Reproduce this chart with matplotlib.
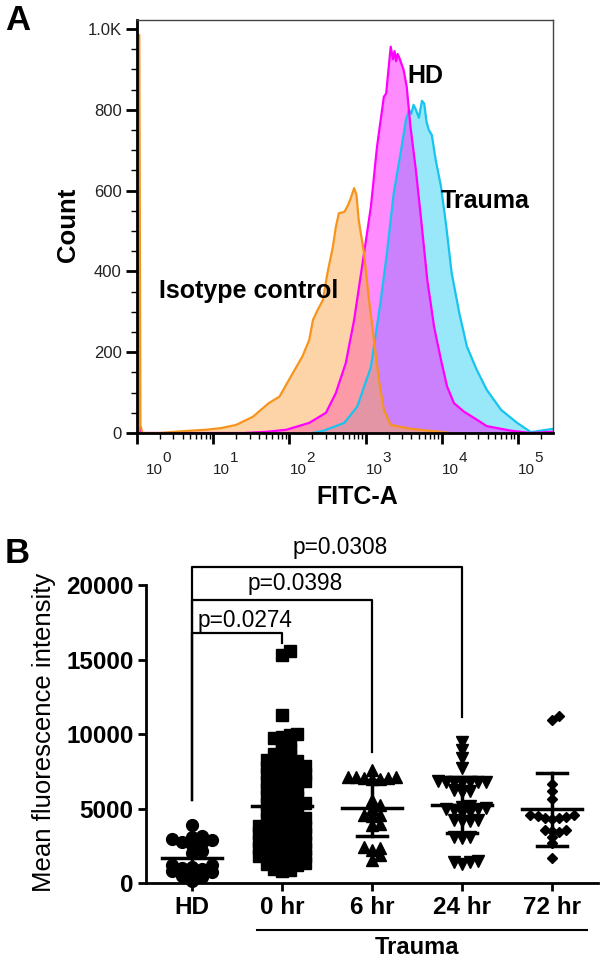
import numpy as np
import matplotlib
matplotlib.use('Agg')
import matplotlib.pyplot as plt
from matplotlib import transforms

plt.rcParams['font.family'] = ['Liberation Sans', 'DejaVu Sans']

# ---- panel A: FITC-A histograms (x as log10 of FITC-A, y as count) ----
iso_log = [0.02, 0.02, 0.03, 0.045, 0.07, 0.3, 0.5, 0.64, 0.9, 1.1, 1.3, 1.52, 1.73, 1.87,
           2.02, 2.17, 2.26, 2.31, 2.37, 2.44, 2.50, 2.57, 2.61, 2.65, 2.72, 2.76,
           2.80, 2.85, 2.88, 2.91, 2.98, 3.04, 3.11, 3.18, 3.24, 3.33, 3.6, 4.03, 4.1]
iso_count = [0, 985, 985, 20, 0, 0, 3, 5, 8, 12, 20, 40, 74, 90,
             140, 189, 230, 280, 304, 329, 396, 460, 510, 544, 547, 560,
             578, 606, 590, 527, 445, 337, 230, 124, 57, 20, 10, 2, 0]

hd_log = [0.02, 0.02, 0.05, 1.4, 1.7, 1.96, 2.26, 2.48, 2.61, 2.74, 2.85, 2.98, 3.07,
          3.15, 3.24, 3.27, 3.30, 3.33, 3.36, 3.38, 3.40, 3.42, 3.44, 3.50, 3.54,
          3.59, 3.66, 3.73, 3.81, 3.90, 3.99, 4.07, 4.16, 4.29, 4.46, 4.59, 4.9,
          5.17, 5.45]
hd_count = [0, 35, 0, 0, 3, 8, 25, 50, 99, 173, 280, 445, 560,
            708, 832, 840, 898, 956, 925, 945, 920, 938, 930, 898, 857,
            757, 651, 527, 379, 262, 181, 115, 74, 53, 33, 17, 6,
            0, 3]

trauma_log = [2.3, 2.44, 2.72, 2.89, 3.07, 3.20, 3.28, 3.37, 3.46, 3.53, 3.57, 3.60,
              3.63, 3.66, 3.70, 3.74, 3.77, 3.80, 3.83, 3.87, 3.92, 3.99, 4.06, 4.13,
              4.23, 4.33, 4.46, 4.59, 4.78, 4.99, 5.17, 5.34, 5.45]
trauma_count = [0, 5, 25, 65, 163, 329, 445, 594, 693, 775, 800, 790,
                812, 800, 780, 822, 815, 770, 750, 737, 676, 610, 510, 396,
                297, 214, 156, 107, 57, 25, 2, 7, 10]

# ---- panel B: mean fluorescence intensity per group ----
groups = ['HD', '0 hr', '6 hr', '24 hr', '72 hr']
hd_mfi = [3900, 3150, 3100, 2950, 2900, 2750, 2700, 2600, 2150, 2050, 1250, 1200,
          1100, 1050, 950, 800, 750, 650, 500, 450, 150]
hr0_mfi = [15600, 15300, 11300,
           10000, 9950, 9800, 9750, 9500, 9450,
           9000, 8950, 8650, 8600, 8550,
           8250, 8200, 8200, 8150, 8150,
           7850, 7800, 7800, 7750, 7750, 7700,
           7350, 7300, 7300, 7250, 7250, 7200,
           6850, 6800, 6800, 6750, 6750, 6700,
           6350, 6300, 6300, 6250, 6200,
           5850, 5800, 5800, 5750, 5700,
           5350, 5300, 5300, 5250, 5250, 5200,
           4850, 4800, 4800, 4750, 4700,
           4350, 4300, 4300, 4250, 4250, 4200,
           3850, 3800, 3800, 3750, 3750, 3700, 3700,
           3350, 3300, 3300, 3250, 3250, 3200, 3200,
           2850, 2800, 2800, 2750, 2750, 2700, 2700,
           2350, 2300, 2300, 2250, 2250, 2200, 2200,
           1850, 1800, 1800, 1750, 1750, 1700, 1700,
           1350, 1300, 1300, 1250, 1250, 1200,
           950, 900, 850]
hr6_mfi = [7580, 7150, 7100, 7100, 7050, 7050, 7000, 7000, 5570, 5230, 5000, 4600,
           4560, 4520, 4000, 3900, 2420, 2350, 2200, 1880, 1540]
hr24_mfi = [9460, 8920, 8390, 7720, 6850, 6820, 6800, 6800, 6780, 6760, 6750, 6250,
            6200, 6150, 5200, 5100, 5050, 5000, 4950, 4900, 4800, 4700, 4250, 4230,
            4200, 4150, 3100, 3080, 3050, 1500, 1450, 1400, 1300]
hr72_mfi = [11200, 10940, 6640, 6180, 5640, 4600, 4550, 4500, 4450, 4400, 4350, 4300,
            3600, 3550, 3500, 3450, 3090, 2680, 1680]
group_means = [1680, 5150, 5030, 5230, 4960]
group_sds = [1000, 3000, 1880, 1880, 2450]
p_values = ['p=0.0274', 'p=0.0398', 'p=0.0308']


def swarm_offsets(vals, h, dx):
    # simple beeswarm: lowest values first, push sideways on collision
    vals = np.asarray(vals, float)
    cand = [0.0]
    for k in range(1, 20):
        cand += [k * dx, -k * dx]
    offs = np.zeros(len(vals))
    px, py = [], []
    for i in np.argsort(vals):
        for c in cand:
            if all(abs(c - a) >= dx * 0.999 or abs(vals[i] - b) >= h for a, b in zip(px, py)):
                break
        offs[i] = c
        px.append(c)
        py.append(vals[i])
    return offs


fig = plt.figure(figsize=(6, 9.6), dpi=100)

# ================= panel A =================
ax1 = fig.add_axes([137 / 600, 1 - 433 / 960, 416 / 600, 413 / 960])
curves = [
    (trauma_log, trauma_count, '#33d3f7', '#17c3ef'),
    (hd_log, hd_count, '#ff1aff', '#ff00ff'),
    (iso_log, iso_count, '#fbab51', '#f7941d'),
]
for lg, cnt, fc, lc in curves:
    xs = 10 ** np.asarray(lg)
    ax1.fill_between(xs, 0, cnt, color=fc, alpha=0.5, lw=0)
    ax1.plot(xs, cnt, color=lc, lw=1.6)

ax1.set_xscale('log')
ax1.set_xlim(1, 10 ** 5.46)
ax1.set_ylim(0, 1022)
ax1.set_yticks([0, 200, 400, 600, 800, 1000])
ax1.set_yticklabels(['0', '200', '400', '600', '800', '1.0K'], fontsize=12, color='#222222')
ax1.set_yticks(np.arange(0, 1001, 50), minor=True)
ax1.set_xticks([10 ** k for k in range(6)])
ax1.set_xticklabels([])
ax1.xaxis.set_minor_locator(matplotlib.ticker.LogLocator(base=10, subs=np.arange(2, 10)))
ax1.xaxis.set_minor_formatter(matplotlib.ticker.NullFormatter())
ax1.tick_params(which='major', length=8, width=2, direction='out')
ax1.tick_params(which='minor', length=4, width=1, direction='out')
ax1.tick_params(axis='y', pad=3)
for s in ['left', 'bottom']:
    ax1.spines[s].set_linewidth(2)
for s in ['top', 'right']:
    ax1.spines[s].set_linewidth(1)
    ax1.spines[s].set_color('#444444')

# decade labels, "10" with a raised exponent
blend = transforms.blended_transform_factory(ax1.transData, ax1.transAxes)
for k in range(6):
    xk = 10 ** (k + (0.12 if k == 0 else 0.0))
    ax1.text(xk, -0.1, '10', transform=blend, fontsize=11, color='#222222',
             ha='left', va='baseline')
    ax1.annotate(str(k), xy=(xk, -0.1), xycoords=blend, xytext=(12, 8.5),
                 textcoords='offset points', fontsize=11, color='#222222',
                 ha='left', va='baseline')

ax1.text(10 ** 3.78, 866, 'HD', fontsize=18, fontweight='bold', ha='center', va='baseline')
ax1.text(10 ** 4.57, 557, 'Trauma', fontsize=18, fontweight='bold', ha='center', va='baseline')
ax1.text(10 ** 1.46, 334, 'Isotype control', fontsize=18, fontweight='bold',
         ha='center', va='baseline')

fig.text(357 / 600, 1 - 497 / 960, 'FITC-A', fontsize=18, fontweight='bold',
         ha='center', va='center')
fig.text(68 / 600, 1 - 225 / 960, 'Count', fontsize=18.5, fontweight='bold',
         rotation=90, ha='center', va='center')
fig.text(5 / 600, 1 - 4 / 960, 'A', fontsize=25, fontweight='bold', ha='left', va='top')

# ================= panel B =================
ymax = 21500
ax2 = fig.add_axes([146 / 600, 1 - 883.3 / 960, 452 / 600, (ymax / 67.04) / 960])
ax2.set_xlim(-0.511, 4.51)
ax2.set_ylim(0, ymax)

datasets = [hd_mfi, hr0_mfi, hr6_mfi, hr24_mfi, hr72_mfi]
markers = ['o', 's', '^', 'v', 'D']
msizes = [8.5, 8, 9, 9, 5.5]
heights = [450, 350, 400, 400, 400]
dxs = [0.11, 0.085, 0.09, 0.09, 0.08]
for i, vals in enumerate(datasets):
    offs = swarm_offsets(vals, heights[i], dxs[i])
    ax2.plot(i + offs, vals, ls='none', marker=markers[i], ms=msizes[i],
             color='black', mec='black', clip_on=False, zorder=3)
    m, sd = group_means[i], group_sds[i]
    ax2.plot([i - 0.33, i + 0.33], [m, m], color='black', lw=2.5, zorder=4)
    ax2.plot([i, i], [m - sd, m + sd], color='black', lw=2.5, zorder=4)
    for y in (m - sd, m + sd):
        ax2.plot([i - 0.17, i + 0.17], [y, y], color='black', lw=2.5, zorder=4)

# significance brackets
bracket_tops = [16770, 19000, 21200]
bracket_ends = [16100, 8790, 11140]
text_x = [0.067, 0.62, 1.12]
text_y = [17180, 19660, 22050]
for j in range(3):
    ax2.plot([0, 0, j + 1, j + 1], [5570, bracket_tops[j], bracket_tops[j], bracket_ends[j]],
             color='black', lw=1.6, clip_on=False)
    ax2.text(text_x[j], text_y[j], p_values[j], fontsize=16.3, ha='left', va='baseline')

ax2.spines['top'].set_visible(False)
ax2.spines['right'].set_visible(False)
ax2.spines['left'].set_bounds(0, 20000)
ax2.spines['left'].set_linewidth(2)
ax2.spines['bottom'].set_linewidth(2)
ax2.set_yticks([0, 5000, 10000, 15000, 20000])
ax2.set_yticklabels(['0', '5000', '10000', '15000', '20000'], fontsize=17.5, fontweight='bold')
ax2.set_xticks(range(5))
ax2.set_xticklabels(groups, fontsize=17.5, fontweight='bold')
ax2.tick_params(length=6, width=2, direction='out', pad=3)

# "Trauma" group underline
ax2.plot([0.72, 4.39], [-3130, -3130], color='black', lw=1.5, clip_on=False)
ax2.text(2.5, -4750, 'Trauma', fontsize=17, fontweight='bold', ha='center', va='baseline')

fig.text(44 / 600, 1 - 732 / 960, 'Mean fluorescence intensity', fontsize=18.5,
         rotation=90, ha='center', va='center')
fig.text(5 / 600, 1 - 537 / 960, 'B', fontsize=25, fontweight='bold', ha='left', va='top')

fig.savefig('out.png', dpi=100)
